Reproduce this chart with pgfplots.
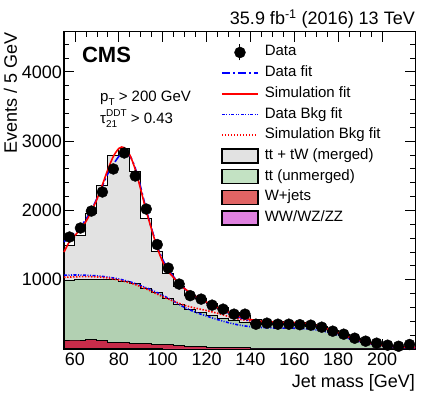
\documentclass[border=0pt]{standalone}
\usepackage{fontspec}
\setmainfont{Liberation Sans}
\usepackage{pgfplots}
\pgfplotsset{compat=1.18}

\definecolor{mergedgray}{RGB}{226,226,226}
\definecolor{unmgreen}{RGB}{178,208,178}
\definecolor{unmgreenleg}{RGB}{195,226,195}
\definecolor{wjred}{RGB}{200,44,74}
\definecolor{wjredleg}{RGB}{225,100,100}
\definecolor{dibos}{RGB}{224,130,224}
\definecolor{fitblue}{RGB}{0,0,255}
\definecolor{fitred}{RGB}{255,0,0}

\begin{document}
\begin{tikzpicture}
\begin{axis}[
  width=351pt, height=317pt, scale only axis,
  xmin=55, xmax=215, ymin=0, ymax=4575,
  xtick={60,80,...,200}, minor x tick num=3,
  ytick={1000,2000,3000,4000},
  minor ytick={200,400,...,4400},
  major tick length=10pt, minor tick length=5pt,
  tick style={black, line width=0.8pt},
  axis line style={line width=1pt},
  ticklabel style={font=\fontsize{18}{18}\selectfont},
  yticklabel style={inner xsep=2pt},
  /pgf/number format/assume math mode=true,
  /pgf/number format/set thousands separator={},
  xlabel={Jet mass [GeV]},
  ylabel={Events / 5 GeV},
  label style={font=\fontsize{18}{18}\selectfont},
  xlabel style={at={(axis description cs:1,0)}, anchor=north east, yshift=-25pt, inner sep=0pt},
  ylabel style={at={(axis description cs:-0.172,1)}, anchor=north east, inner sep=0pt},
  clip=false,
  legend cell align=left,
  legend style={draw=none, fill=none, at={(rel axis cs:0.4387,0.975)}, anchor=north west,
    font=\fontsize{15}{15}\selectfont, row sep=0pt, /tikz/column sep=6pt,
    nodes={text height=11pt, text depth=4pt, inner ysep=2.85pt, inner xsep=0pt}},
]
% legend entries
\addlegendimage{legend image code/.code={\draw[black, line width=1pt] (18pt,-8pt) -- (18pt,8pt); \fill[black] (18pt,0pt) circle (5.5pt);}}
\addlegendentry{Data}
\addlegendimage{legend image code/.code={\draw[fitblue, line width=1.6pt, dash pattern=on 8pt off 3pt on 2pt off 3pt] (0pt,0pt) -- (36pt,0pt);}}
\addlegendentry{Data fit}
\addlegendimage{legend image code/.code={\draw[fitred, line width=1.6pt] (0pt,0pt) -- (36pt,0pt);}}
\addlegendentry{Simulation fit}
\addlegendimage{legend image code/.code={\draw[fitblue, line width=1.6pt, dash pattern=on 3pt off 1.5pt on 1pt off 1.5pt on 1pt off 1.5pt] (0pt,0pt) -- (36pt,0pt);}}
\addlegendentry{Data Bkg fit}
\addlegendimage{legend image code/.code={\draw[fitred, line width=1.6pt, dash pattern=on 1.5pt off 1.5pt] (0pt,0pt) -- (36pt,0pt);}}
\addlegendentry{Simulation Bkg fit}
\addlegendimage{legend image code/.code={\draw[fill=mergedgray, draw=black, line width=1.2pt] (0pt,-7pt) rectangle (36pt,7pt);}}
\addlegendentry{tt + tW (merged)}
\addlegendimage{legend image code/.code={\draw[fill=unmgreenleg, draw=black, line width=1.2pt] (0pt,-7pt) rectangle (36pt,7pt);}}
\addlegendentry{tt (unmerged)}
\addlegendimage{legend image code/.code={\draw[fill=wjredleg, draw=black, line width=1.2pt] (0pt,-7pt) rectangle (36pt,7pt);}}
\addlegendentry{W+jets}
\addlegendimage{legend image code/.code={\draw[fill=dibos, draw=black, line width=1.2pt] (0pt,-7pt) rectangle (36pt,7pt);}}
\addlegendentry{WW/WZ/ZZ}

% stacked simulation (cumulative tops, 5 GeV bins)
\addplot[const plot, fill=mergedgray, draw=black, line width=1pt, forget plot] coordinates {
 (55,1500) (60,1645) (65,1962) (70,2353) (75,2786) (80,2887) (85,2560) (90,1890)
 (95,1403) (100,1091) (105,897) (110,770) (115,725) (120,660) (125,595) (130,530)
 (135,480) (140,420) (145,400) (150,390) (155,385) (160,380) (165,360) (170,325)
 (175,270) (180,212) (185,152) (190,100) (195,62) (200,40) (205,28) (210,22) (215,22)
} \closedcycle;
\addplot[const plot, fill=unmgreen, draw=black, line width=1pt, forget plot] coordinates {
 (55,990) (60,1000) (65,1005) (70,1010) (75,1000) (80,975) (85,945) (90,880)
 (95,815) (100,730) (105,640) (110,565) (115,520) (120,480) (125,445) (130,412)
 (135,385) (140,365) (145,355) (150,350) (155,348) (160,345) (165,330) (170,300)
 (175,250) (180,198) (185,142) (190,94) (195,58) (200,37) (205,26) (210,20) (215,20)
} \closedcycle;
\addplot[const plot, fill=wjred, draw=black, line width=1pt, forget plot] coordinates {
 (55,130) (60,130) (65,142) (70,122) (75,100) (80,97) (85,85) (90,80)
 (95,68) (100,60) (105,50) (110,42) (115,35) (120,28) (125,22) (130,18)
 (135,15) (140,12) (145,10) (150,9) (155,8) (160,7) (165,6) (170,5)
 (175,5) (180,4) (185,3) (190,3) (195,2) (200,2) (205,2) (210,2) (215,2)
} \closedcycle;
\addplot[const plot, fill=dibos, draw=black, line width=0.6pt, forget plot] coordinates {
 (55,6) (60,6) (65,5) (70,5) (75,5) (80,5) (85,4) (90,4)
 (95,4) (100,3) (105,3) (110,3) (115,3) (120,2) (125,2) (130,2)
 (135,2) (140,2) (145,2) (150,2) (155,2) (160,1) (165,1) (170,1)
 (175,1) (180,1) (185,1) (190,1) (195,1) (200,1) (205,1) (210,1) (215,1)
} \closedcycle;

% background fits
\addplot[fitblue, line width=1.6pt, dash pattern=on 3pt off 1.5pt on 1pt off 1.5pt on 1pt off 1.5pt, smooth, forget plot] coordinates {
 (55,1065) (60,1068) (65,1065) (70,1055) (75,1038) (80,1010) (85,970) (90,915)
 (95,850) (100,775) (105,690) (110,600) (115,530) (120,475) (125,425) (130,380)
 (135,345) (140,322) (145,310) (150,304) (155,302) (160,300) (165,292) (170,275)
 (175,243) (180,200) (185,150) (190,105) (195,70) (200,46) (205,31) (210,22) (215,16)
};
\addplot[fitred, line width=1.6pt, dash pattern=on 1.5pt off 1.5pt, smooth, forget plot] coordinates {
 (55,1035) (60,1042) (65,1045) (70,1040) (75,1025) (80,995) (85,955) (90,900)
 (95,830) (100,755) (105,690) (110,630) (115,590) (120,555) (125,515) (130,470)
 (135,430) (140,405) (145,390) (150,382) (155,378) (160,374) (165,362) (170,334)
 (175,287) (180,229) (185,169) (190,116) (195,76) (200,50) (205,34) (210,25) (215,19)
};
% full fits
\addplot[fitblue, line width=1.6pt, dash pattern=on 8pt off 3pt on 2pt off 3pt, smooth, forget plot] coordinates {
 (55,1548) (60,1680) (65,1870) (70,2170) (75,2530) (80,2780) (82.5,2830) (85,2790)
 (87.5,2610) (90,2330) (92.5,2010) (95,1730) (97.5,1480) (100,1290) (102.5,1150)
 (105,1040) (110,870) (115,760) (120,670) (125,590) (130,520) (135,455) (140,410)
 (145,385) (150,375) (155,372) (160,370) (165,358) (170,330) (175,282) (180,225)
 (185,165) (190,115) (195,76) (200,52) (205,36) (210,26) (215,20)
};
\addplot[fitred, line width=1.6pt, smooth, forget plot] coordinates {
 (55,1400) (57.5,1550) (60,1640) (62.5,1730) (65,1840) (67.5,1990) (70,2160)
 (72.5,2370) (75,2590) (77.5,2780) (80,2895) (81.3,2915) (82.5,2905) (85,2800)
 (87.5,2590) (90,2300) (92.5,1990) (95,1720) (97.5,1460) (100,1260) (102.5,1120)
 (105,1030) (107.5,940) (110,870) (112.5,815) (115,760) (117.5,720) (120,675)
 (125,595) (130,530) (135,470) (140,425) (145,400) (150,390) (155,385) (160,382)
 (165,370) (170,340) (175,290) (180,230) (185,170) (190,120) (195,80) (200,55)
 (205,38) (210,28) (215,22)
};

% data
\addplot[only marks, mark=*, mark size=5.5pt, black, forget plot] coordinates {
 (57.5,1616) (62.5,1746) (67.5,1991) (72.5,2266) (77.5,2598) (82.5,2829) (87.5,2497)
 (92.5,2020) (97.5,1507) (102.5,1168) (107.5,937) (112.5,770) (117.5,720) (122.5,633)
 (127.5,575) (132.5,503) (137.5,503) (142.5,358) (147.5,373) (152.5,358) (157.5,358)
 (162.5,351) (167.5,344) (172.5,315) (177.5,257) (182.5,214) (187.5,156) (192.5,113)
 (197.5,84) (202.5,55) (207.5,40) (212.5,65)
};

\node[anchor=base east, inner sep=0pt, font=\fontsize{18}{18}\selectfont] at (rel axis cs:1,1) [yshift=7pt] {35.9 fb\textsuperscript{-1} (2016) 13 TeV};
\node[anchor=base west, inner sep=0pt, font=\fontsize{22}{22}\selectfont\bfseries] at (rel axis cs:0.051,0.905) {CMS};
\node[anchor=base west, inner sep=0pt, font=\fontsize{15}{15}\selectfont] at (rel axis cs:0.1026,0.782) {p\raisebox{-4pt}{\fontsize{10}{10}\selectfont T} > 200 GeV};
\node[anchor=base west, inner sep=0pt, font=\fontsize{15}{15}\selectfont] at (rel axis cs:0.1026,0.712) {τ\rlap{\raisebox{-4pt}{\fontsize{10}{10}\selectfont 21}}\raisebox{6.5pt}{\fontsize{10}{10}\selectfont DDT} > 0.43};
\end{axis}
\path (current axis.south west) ++(-64pt,-48.2pt) coordinate (bl);
\path (current axis.north east) ++(17pt,32pt) coordinate (tr);
\path (bl) rectangle (tr);
\end{tikzpicture}
\end{document}
